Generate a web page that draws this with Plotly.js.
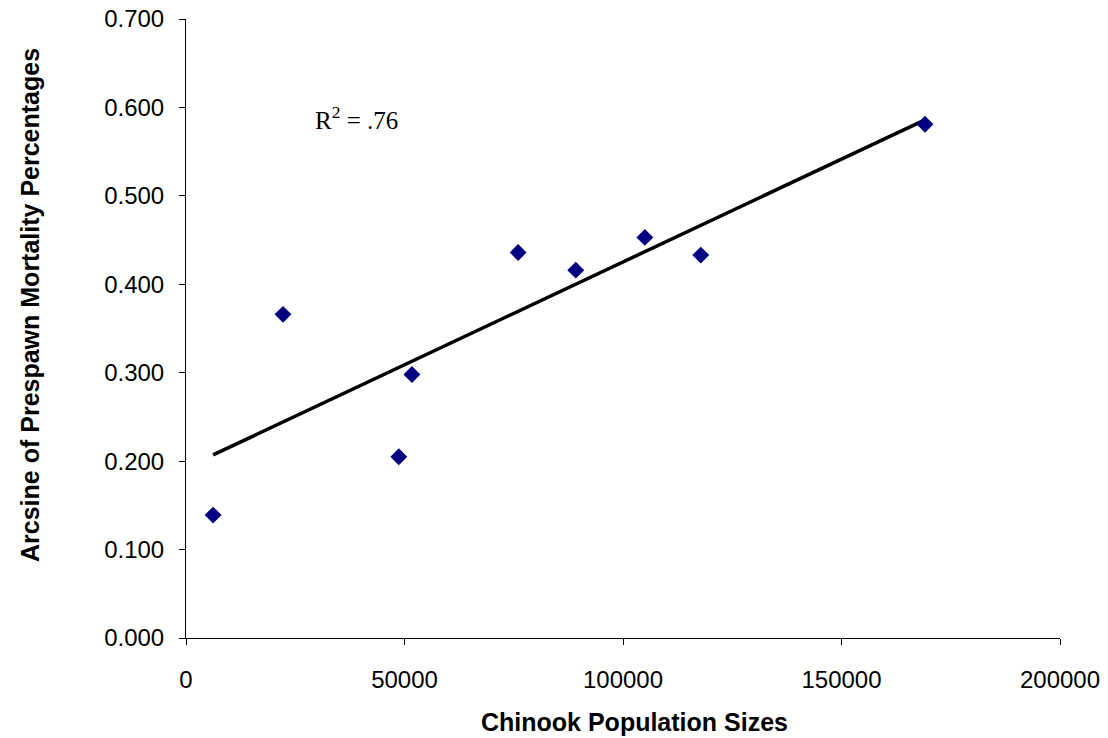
<!DOCTYPE html>
<html>
<head>
<meta charset="utf-8">
<script src="https://cdn.plot.ly/plotly-3.0.1.min.js"></script>
<style>html,body{margin:0;padding:0;background:#fff;}#chart{width:1108px;height:738px;}</style>
</head>
<body>
<div id="chart"></div>
<script>
// Data
const populationSizes = [6200, 22200, 48700, 51700, 76000, 89200, 105000, 117800, 169100];
const arcsineMortality = [0.139, 0.366, 0.205, 0.298, 0.436, 0.416, 0.453, 0.433, 0.581];
// Trend line end points (as drawn in the reference)
const trendX = [6200, 169100];
const trendY = [0.207, 0.586];
const xTicks = [0, 50000, 100000, 150000, 200000];
const yTicks = [0, 0.1, 0.2, 0.3, 0.4, 0.5, 0.6, 0.7];
const r2Label = "R<sup>2</sup> = .76";
const xTitle = "<b>Chinook Population Sizes</b>";
const yTitle = "<b>Arcsine of Prespawn Mortality Percentages</b>";

const traces = [
  {
    x: trendX, y: trendY, type: 'scatter', mode: 'lines',
    line: {color: '#000000', width: 3.5}, hoverinfo: 'skip', showlegend: false
  },
  {
    x: populationSizes, y: arcsineMortality, type: 'scatter', mode: 'markers',
    marker: {symbol: 'diamond', color: '#000080', size: 13}, showlegend: false
  }
];

const font = 'Liberation Sans, Arial, sans-serif';
const layout = {
  width: 1108, height: 738,
  margin: {l: 186, r: 48, t: 19, b: 100},
  paper_bgcolor: '#ffffff', plot_bgcolor: '#ffffff',
  font: {family: font, color: '#000000'},
  showlegend: false,
  xaxis: {
    range: [0, 200000], tickvals: xTicks, tickformat: 'd',
    showgrid: false, zeroline: false, showline: true, linecolor: '#000000', linewidth: 1,
    ticks: 'outside', ticklen: 6, tickcolor: '#000000',
    tickfont: {size: 24, family: font},
    ticklabelstandoff: 14
  },
  yaxis: {
    range: [0, 0.7], tickvals: yTicks, tickformat: '.3f',
    showgrid: false, zeroline: false, showline: true, linecolor: '#000000', linewidth: 1,
    ticks: 'outside', ticklen: 6, tickcolor: '#000000',
    tickfont: {size: 24, family: font},
    ticklabelstandoff: 10
  },
  annotations: [
    {
      x: 29000, y: 0.588, xref: 'x', yref: 'y', xanchor: 'left', yanchor: 'middle',
      text: r2Label, showarrow: false,
      font: {family: 'Liberation Serif, Times New Roman, serif', size: 25, color: '#000000'}
    },
    {
      x: 0.5137, y: -0.1357, xref: 'paper', yref: 'paper', xanchor: 'center', yanchor: 'middle',
      text: xTitle, showarrow: false, font: {family: font, size: 25, color: '#000000'}
    },
    {
      x: -0.1785, y: 0.538, xref: 'paper', yref: 'paper', xanchor: 'center', yanchor: 'middle',
      text: yTitle, textangle: -90, showarrow: false, font: {family: font, size: 25, color: '#000000'}
    }
  ]
};

Plotly.newPlot('chart', traces, layout, {displayModeBar: false, staticPlot: true});
</script>
</body>
</html>
